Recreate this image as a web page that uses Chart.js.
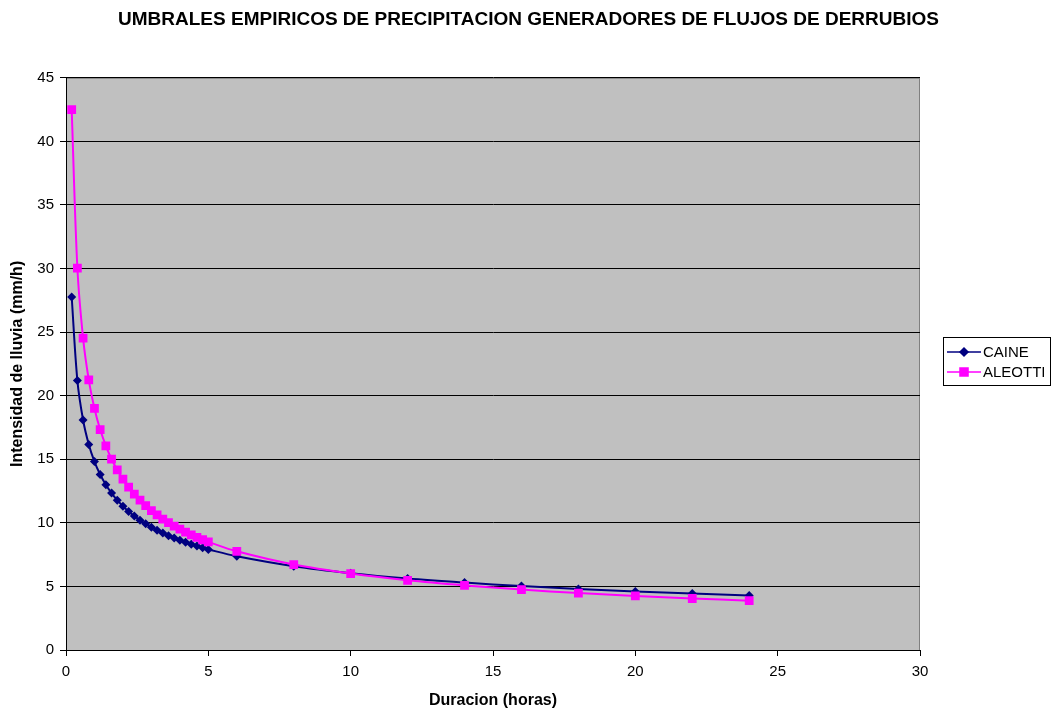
<!doctype html>
<html>
    <head>
        <title>Umbrales empiricos</title>
        <script src="https://cdn.jsdelivr.net/npm/chart.js@4.4.1/dist/chart.umd.min.js"></script>
        <style>
            body { margin: 0; background: #fff; }
            #box { width: 1057px; height: 709px; }
        </style>
    </head>
    <body>
        <div id="box"><canvas id="umbrales"></canvas></div>

        <script>
            // duracion (horas)
            var duracion = [0.2, 0.4, 0.6, 0.8, 1.0, 1.2, 1.4, 1.6, 1.8, 2.0, 2.2, 2.4, 2.6, 2.8, 3.0,
                            3.2, 3.4, 3.6, 3.8, 4.0, 4.2, 4.4, 4.6, 4.8, 5.0,
                            6, 8, 10, 12, 14, 16, 18, 20, 22, 24];
            // intensidad (mm/h)
            var caine = [27.76, 21.19, 18.09, 16.17, 14.82, 13.80, 13.00, 12.34, 11.78, 11.31, 10.90, 10.53, 10.21, 9.92, 9.66,
                         9.42, 9.20, 8.99, 8.80, 8.63, 8.47, 8.32, 8.17, 8.04, 7.91,
                         7.37, 6.59, 6.04, 5.62, 5.30, 5.03, 4.80, 4.61, 4.44, 4.29];
            var aleotti = [42.49, 30.04, 24.53, 21.24, 19.00, 17.34, 16.06, 15.02, 14.16, 13.44, 12.81, 12.26, 11.78, 11.35, 10.97,
                           10.62, 10.30, 10.01, 9.75, 9.50, 9.27, 9.06, 8.86, 8.67, 8.50,
                           7.76, 6.72, 6.01, 5.48, 5.08, 4.75, 4.48, 4.25, 4.05, 3.88];
            var xTicks = [0, 5, 10, 15, 20, 25, 30];
            var yTicks = [0, 5, 10, 15, 20, 25, 30, 35, 40, 45];

            function pts(ys) {
                var out = [];
                for (var i = 0; i < duracion.length; i++) out.push({x: duracion[i], y: ys[i]});
                return out;
            }

            Chart.defaults.font.family = "'Liberation Sans', Arial, sans-serif";
            Chart.defaults.color = '#000';

            // fondo gris y marco del area de trazado
            var plotBg = {
                id: 'plotBg',
                beforeDraw: function(chart) {
                    var a = chart.chartArea, c = chart.ctx;
                    c.save();
                    c.fillStyle = '#c0c0c0';
                    c.fillRect(a.left, a.top, a.right - a.left, a.bottom - a.top);
                    c.strokeStyle = '#808080';
                    c.lineWidth = 1;
                    c.strokeRect(a.left + 0.5, a.top + 0.5, a.right - a.left - 1, a.bottom - a.top);
                    c.restore();
                }
            };

            // leyenda con recuadro, a la derecha
            var boxLegend = {
                id: 'boxLegend',
                afterDraw: function(chart) {
                    var c = chart.ctx;
                    var x = 943, y = 337, w = 107, h = 48;
                    c.save();
                    c.fillStyle = '#fff';
                    c.fillRect(x, y, w, h);
                    c.strokeStyle = '#000';
                    c.lineWidth = 1;
                    c.strokeRect(x + 0.5, y + 0.5, w, h);
                    var items = [chart.data.datasets[0], chart.data.datasets[1]];
                    c.font = "15px 'Liberation Sans', Arial, sans-serif";
                    c.textBaseline = 'middle';
                    for (var i = 0; i < items.length; i++) {
                        var ds = items[i];
                        var ly = y + 15 + i * 20;
                        c.strokeStyle = ds.borderColor;
                        c.lineWidth = 1.5;
                        c.beginPath();
                        c.moveTo(x + 4, ly);
                        c.lineTo(x + 38, ly);
                        c.stroke();
                        Chart.helpers.drawPoint(c, {pointStyle: ds.pointStyle, radius: ds.pointRadius - 0.5, borderWidth: 1}, x + 21, ly);
                        c.fillStyle = ds.borderColor;
                        c.fill();
                        c.fillStyle = '#000';
                        c.fillText(ds.label, x + 40, ly + 1);
                    }
                    c.restore();
                }
            };

            var ctx = document.getElementById('umbrales').getContext('2d');
            var chart = new Chart(ctx, {
                type: 'line',
                data: {
                    datasets: [{
                        label: 'CAINE',
                        data: pts(caine),
                        borderColor: '#000080',
                        backgroundColor: '#000080',
                        borderWidth: 2,
                        pointStyle: 'rectRot',
                        pointRadius: 4.5,
                        pointBorderWidth: 0,
                        tension: 0.35,
                        order: 1
                    }, {
                        label: 'ALEOTTI',
                        data: pts(aleotti),
                        borderColor: '#ff00ff',
                        backgroundColor: '#ff00ff',
                        borderWidth: 2,
                        pointStyle: 'rect',
                        pointRadius: 6.2,
                        pointBorderWidth: 0,
                        tension: 0.35,
                        order: 0
                    }]
                },
                options: {
                    responsive: true,
                    maintainAspectRatio: false,
                    animation: false,
                    layout: { padding: 0 },
                    plugins: {
                        legend: { display: false },
                        tooltip: { enabled: false },
                        title: {
                            display: true,
                            text: 'UMBRALES EMPIRICOS DE PRECIPITACION GENERADORES DE FLUJOS DE DERRUBIOS',
                            font: { size: 19, weight: 'bold' },
                            color: '#000',
                            padding: { top: 8, bottom: 47 }
                        }
                    },
                    scales: {
                        x: {
                            type: 'linear',
                            min: 0,
                            max: 30,
                            afterBuildTicks: function(s) { s.ticks = xTicks.map(function(v) { return {value: v}; }); },
                            afterFit: function(s) { s.height = 59; },
                            ticks: { font: { size: 15 }, padding: 7, maxRotation: 0 },
                            grid: { drawOnChartArea: false, drawTicks: true, tickLength: 6, color: '#000' },
                            border: { color: '#000', width: 1 },
                            title: { display: true, text: 'Duracion (horas)', font: { size: 16, weight: 'bold', lineHeight: 1 }, padding: 0 }
                        },
                        y: {
                            min: 0,
                            max: 45,
                            afterBuildTicks: function(s) { s.ticks = yTicks.map(function(v) { return {value: v}; }); },
                            afterFit: function(s) { s.width = 66; },
                            ticks: { font: { size: 15 }, padding: 6 },
                            grid: { color: '#000', tickLength: 6, lineWidth: 1 },
                            border: { color: '#000', width: 1 },
                            title: { display: true, text: 'Intensidad de lluvia (mm/h)', font: { size: 16, weight: 'bold' }, padding: { top: 8, bottom: 4 } }
                        },
                        // espacio reservado para la leyenda
                        yLeyenda: {
                            position: 'right',
                            display: true,
                            afterFit: function(s) { s.width = 137; },
                            ticks: { display: false },
                            grid: { display: false },
                            border: { display: false }
                        }
                    }
                },
                plugins: [plotBg, boxLegend]
            });
        </script>
    </body>
</html>
